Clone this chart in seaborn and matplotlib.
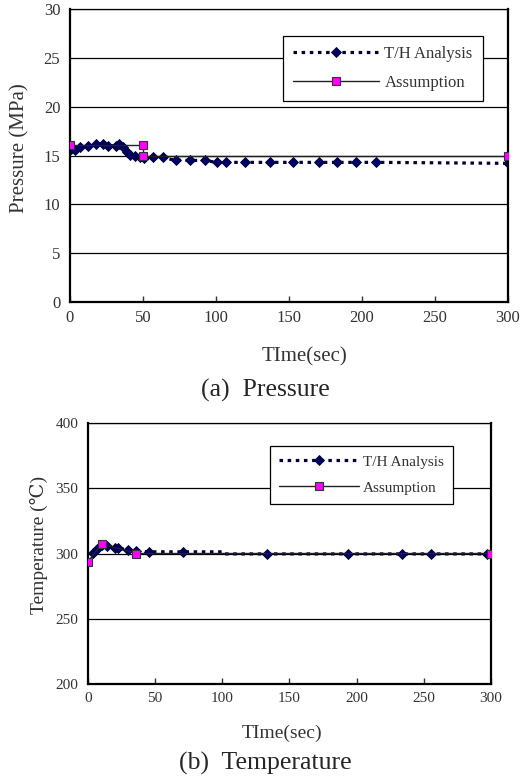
import matplotlib
matplotlib.use("Agg")
import matplotlib.pyplot as plt
import numpy as np
import seaborn as sns

# pressure data (MPa)
p_th_time = [0.7, 3.4, 6.8, 12.6, 17.6, 22.4, 26.3, 31.5, 33.8, 36.5, 38.8, 41.1, 44.5, 47.9,
             50.7, 57, 63.5, 72.4, 82.2, 92.5, 100.5, 106.8, 119.8, 137, 152.5, 170.5, 183,
             195.9, 210, 300]
p_th_val = [15.7, 15.6, 15.9, 16.0, 16.2, 16.2, 16.0, 16.0, 16.2, 15.9, 15.4, 15.1, 15.0, 14.8,
            14.7, 14.8, 14.8, 14.5, 14.5, 14.5, 14.3, 14.3, 14.3, 14.3, 14.3, 14.3, 14.3,
            14.3, 14.3, 14.2]
p_as_time = [0, 50, 50, 300]
p_as_val = [16.1, 16.1, 15.0, 15.0]

# temperature data (C)
t_th_time = [0, 3.5, 6.5, 10.2, 14.4, 20.1, 22.6, 29.5, 35.7, 45.4, 71, 100, 101, 133, 193.8,
             233.6, 255, 296.9]
t_th_val = [294, 300.5, 303.5, 306.3, 305.6, 304, 304, 302.8, 302, 301.3, 301.3, 301.3, 299.7,
            299.7, 299.7, 299.7, 299.7, 299.7]
t_th_marked = [1, 2, 3, 4, 5, 6, 7, 8, 9, 10, 13, 14, 15, 16, 17]
t_as_time = [0, 10.2, 36, 300]
t_as_val = [293.7, 307.4, 300, 300]

x_ticks = [0, 50, 100, 150, 200, 250, 300]

sns.set_style("white")
plt.rcParams['font.family'] = ['Liberation Serif', 'DejaVu Serif']

fig = plt.figure(figsize=(5.25, 7.78), dpi=100)
ax1 = fig.add_axes([0.1333, 0.6118, 0.834, 0.3766])
ax2 = fig.add_axes([0.1676, 0.1208, 0.7676, 0.3355])


def draw(ax, th_t, th_v, as_t, as_v, ylim, yticks, ylabel, fs_tick, fs_lab, fs_leg, leg_box,
         lab_xy, th_mark=None):
    for yv in yticks:
        ax.axhline(yv, color='black', lw=0.9, zorder=0)
    sns.lineplot(x=as_t, y=as_v, ax=ax, sort=False, estimator=None, color='#222222', lw=1,
                 marker='s', markersize=6.3, markerfacecolor='#ff00ff', markeredgecolor='#333333',
                 markeredgewidth=0.8, label='Assumption', zorder=3)
    kw = {}
    if th_mark is not None:
        kw['markevery'] = th_mark
    sns.lineplot(x=th_t, y=th_v, ax=ax, sort=False, estimator=None, color='#000033', lw=2.3,
                 linestyle=(0, (1.1, 1.45)), marker='D', markersize=5.5, markerfacecolor='#000066',
                 markeredgecolor='#000033', markeredgewidth=0.6, label='T/H Analysis', zorder=2, **kw)
    ax.set_xlim(0, 300)
    ax.set_ylim(*ylim)
    ax.set_xticks(x_ticks)
    ax.set_yticks(yticks)
    ax.tick_params(axis='x', direction='in', length=4, width=1, bottom=True, labelsize=fs_tick,
                   pad=6, colors='#333333')
    ax.tick_params(axis='y', length=0, labelsize=fs_tick, pad=7, colors='#333333')
    for s in ['left', 'bottom', 'right']:
        ax.spines[s].set_linewidth(1.6)
        ax.spines[s].set_color('black')
    ax.spines['top'].set_linewidth(0.9)
    ax.spines['top'].set_color('black')
    ax.set_ylabel(ylabel, fontsize=fs_lab, color='#333333')
    ax.yaxis.set_label_coords(*lab_xy)
    h, l = ax.get_legend_handles_labels()
    leg = ax.legend(h[::-1], l[::-1], loc='upper left', bbox_to_anchor=leg_box, fontsize=fs_leg,
                    frameon=True, fancybox=False, edgecolor='black', handlelength=5.2,
                    labelspacing=0.8, borderpad=0.6, borderaxespad=0, handletextpad=0.3,
                    framealpha=1)
    leg.get_frame().set_linewidth(0.9)
    for t in leg.get_texts():
        t.set_color('#333333')


draw(ax1, p_th_time, p_th_val, p_as_time, p_as_val, (0, 30), [0, 5, 10, 15, 20, 25, 30],
     'Pressure (MPa)', 12, 15, 12, (0.486, 0.908), (-0.092, 0.526))
draw(ax2, t_th_time, t_th_val, t_as_time, t_as_val, (200, 400), [200, 250, 300, 350, 400],
     'Temperature (\u2103)', 11, 14, 11, (0.4516, 0.912), (-0.10, 0.533),
     th_mark=t_th_marked)

fig.text(305 / 525, 1 - 357 / 778, 'TIme(sec)', ha='center', va='center', fontsize=15, color='#333333')
fig.text(265 / 525, 1 - 390 / 778, '(a)  Pressure', ha='center', va='center', fontsize=18.5)
fig.text(282 / 525, 1 - 733 / 778, 'TIme(sec)', ha='center', va='center', fontsize=14, color='#333333')
fig.text(265 / 525, 1 - 763 / 778, '(b)  Temperature', ha='center', va='center', fontsize=18.5)

fig.savefig('out.png', dpi=100)
